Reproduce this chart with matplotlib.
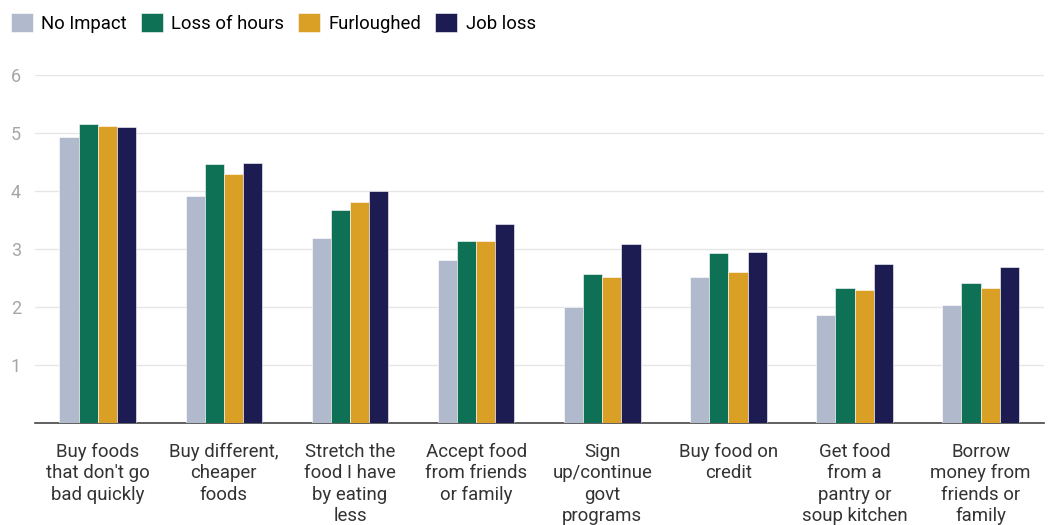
import matplotlib.pyplot as plt
import numpy as np

plt.rcParams['font.family'] = ['Roboto', 'DejaVu Sans']

categories = ["Buy foods\nthat don't go\nbad quickly",
              "Buy different,\ncheaper\nfoods",
              "Stretch the\nfood I have\nby eating\nless",
              "Accept food\nfrom friends\nor family",
              "Sign\nup/continue\ngovt\nprograms",
              "Buy food on\ncredit",
              "Get food\nfrom a\npantry or\nsoup kitchen",
              "Borrow\nmoney from\nfriends or\nfamily"]

series = ['No Impact', 'Loss of hours', 'Furloughed', 'Job loss']
no_impact = [4.94, 3.92, 3.19, 2.82, 2.01, 2.52, 1.87, 2.03]
loss_of_hours = [5.16, 4.46, 3.68, 3.14, 2.57, 2.93, 2.33, 2.41]
furloughed = [5.13, 4.29, 3.81, 3.14, 2.52, 2.60, 2.30, 2.33]
job_loss = [5.10, 4.48, 4.00, 3.44, 3.09, 2.95, 2.74, 2.69]

colors = ['#b0bacc', '#0e7155', '#daa026', '#1d1c52']

fig = plt.figure(figsize=(10.5, 5.25), dpi=100)
ax = fig.add_axes([0.033, 0.194, 0.961, 0.663])

x = np.arange(len(categories))
w = 0.152
for i, (name, vals) in enumerate(zip(series, [no_impact, loss_of_hours, furloughed, job_loss])):
    ax.bar(x + (i - 1.5) * w, vals, width=w, color=colors[i], label=name,
           edgecolor='white', linewidth=0.4, zorder=3)

ax.set_xlim(-0.5, len(categories) - 0.5)
ax.set_ylim(0, 6)
ax.set_yticks([1, 2, 3, 4, 5, 6])
ax.yaxis.grid(True, color='#e6e6e6', linewidth=1, zorder=0)
ax.tick_params(axis='y', length=0, labelsize=13, colors='#a6a6a6', pad=10)
ax.set_xticks(x)
ax.set_xticklabels(categories, fontsize=13.4, color='#333333', linespacing=1.25, va='top')
ax.tick_params(axis='x', length=0, pad=14)

for s in ['top', 'right', 'left']:
    ax.spines[s].set_visible(False)
ax.spines['bottom'].set_color('#444444')
ax.spines['bottom'].set_linewidth(1.2)

fig.legend(loc='upper left', bbox_to_anchor=(-0.002, 1.0), ncol=4, frameon=False,
           fontsize=13.3, handlelength=1.2, handleheight=1.2, handletextpad=0.45,
           columnspacing=0.75, borderaxespad=0.3)

fig.savefig('out.png', dpi=100)
